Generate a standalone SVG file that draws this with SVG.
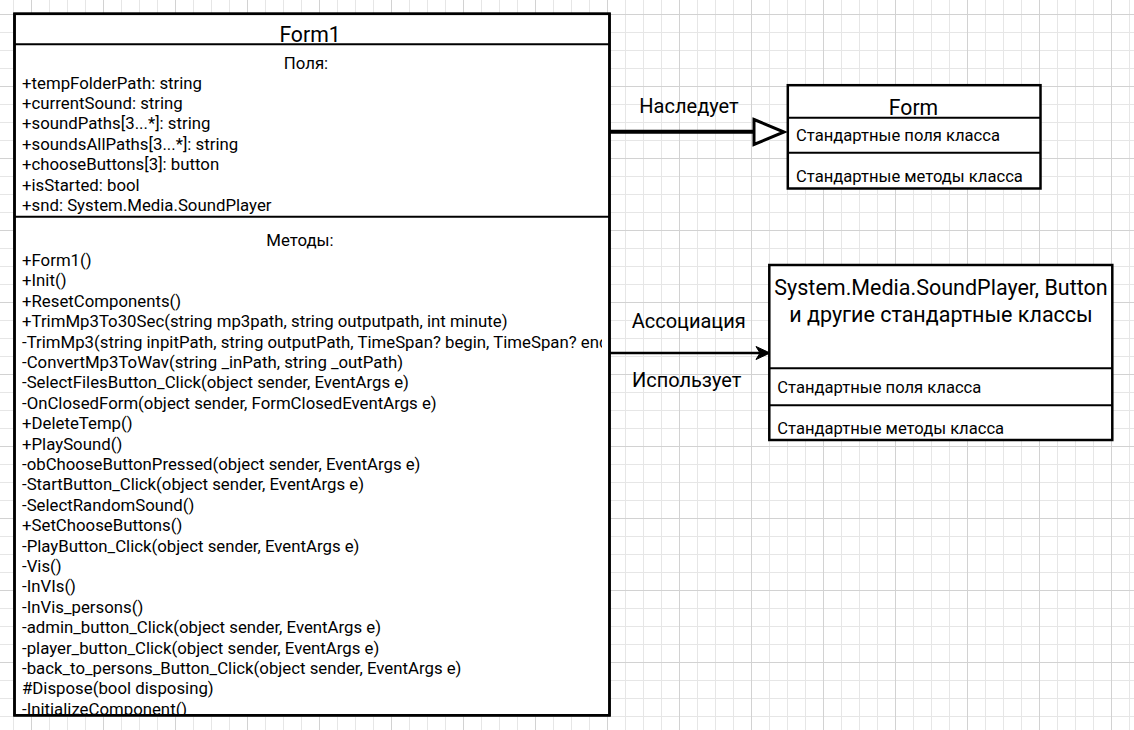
<svg xmlns="http://www.w3.org/2000/svg" width="1134" height="730" viewBox="0 0 1134 730">
<defs>
<pattern id="grid" width="72" height="72" patternUnits="userSpaceOnUse" x="13" y="14">
<path d="M0.5 0V72M36.5 0V72M54.5 0V72M0 18.5H72M0 36.5H72M0 54.5H72" stroke="#e6e6e6" stroke-width="1" fill="none"/>
<path d="M18.5 0V72M0 0.5H72" stroke="#d2d2d2" stroke-width="1" fill="none"/>
</pattern>
<clipPath id="clipForm1"><rect x="14" y="14" width="588" height="701"/></clipPath>
<style>
text{font-family:Roboto,"Liberation Sans",sans-serif;fill:#000;}
.title{font-size:21.2px;text-anchor:middle;}
.title2{font-size:21.5px;text-anchor:middle;}
.item{font-size:16.8px;}
.head{font-size:16.8px;text-anchor:middle;}
.lbl{font-size:20px;text-anchor:middle;}
.std{font-size:16.6px;}
.box{fill:#fff;stroke:#000;stroke-width:2.5;}
.sep{stroke:#000;stroke-width:2;fill:none;}
</style>
</defs>
<rect x="0" y="0" width="1134" height="730" fill="#fff"/>
<rect x="0" y="0" width="1134" height="730" fill="url(#grid)"/>

<g id="form1">
<rect class="box" x="14.5" y="13.8" width="595" height="701.5"/>
<text class="title" x="310" y="42">Form1</text>
<line class="sep" x1="14.5" y1="44.2" x2="609.5" y2="44.2" stroke-width="2.5"/>
<g clip-path="url(#clipForm1)">
<text class="head" x="306" y="68.5">Поля:</text>
<text class="item" x="22" y="88.5">+tempFolderPath: string</text>
<text class="item" x="22" y="108.9">+currentSound: string</text>
<text class="item" x="22" y="129.3">+soundPaths[3...*]: string</text>
<text class="item" x="22" y="149.7">+soundsAllPaths[3...*]: string</text>
<text class="item" x="22" y="170.1">+chooseButtons[3]: button</text>
<text class="item" x="22" y="190.5">+isStarted: bool</text>
<text class="item" x="22" y="210.9">+snd: System.Media.SoundPlayer</text>
<text class="head" x="300" y="245.5">Методы:</text>
<text class="item" x="22" y="266">+Form1()</text>
<text class="item" x="22" y="286.4">+Init()</text>
<text class="item" x="22" y="306.8">+ResetComponents()</text>
<text class="item" x="22" y="327.2">+TrimMp3To30Sec(string mp3path, string outputpath, int minute)</text>
<text class="item" x="22" y="347.6">-TrimMp3(string inpitPath, string outputPath, TimeSpan? begin, TimeSpan? end)</text>
<text class="item" x="22" y="368">-ConvertMp3ToWav(string _inPath, string _outPath)</text>
<text class="item" x="22" y="388.4">-SelectFilesButton_Click(object sender, EventArgs e)</text>
<text class="item" x="22" y="408.8">-OnClosedForm(object sender, FormClosedEventArgs e)</text>
<text class="item" x="22" y="429.2">+DeleteTemp()</text>
<text class="item" x="22" y="449.6">+PlaySound()</text>
<text class="item" x="22" y="470">-obChooseButtonPressed(object sender, EventArgs e)</text>
<text class="item" x="22" y="490.4">-StartButton_Click(object sender, EventArgs e)</text>
<text class="item" x="22" y="510.8">-SelectRandomSound()</text>
<text class="item" x="22" y="531.2">+SetChooseButtons()</text>
<text class="item" x="22" y="551.6">-PlayButton_Click(object sender, EventArgs e)</text>
<text class="item" x="22" y="572">-Vis()</text>
<text class="item" x="22" y="592.4">-InVIs()</text>
<text class="item" x="22" y="612.8">-InVis_persons()</text>
<text class="item" x="22" y="633.2">-admin_button_Click(object sender, EventArgs e)</text>
<text class="item" x="22" y="653.6">-player_button_Click(object sender, EventArgs e)</text>
<text class="item" x="22" y="674">-back_to_persons_Button_Click(object sender, EventArgs e)</text>
<text class="item" x="22" y="694.4">#Dispose(bool disposing)</text>
<text class="item" x="22" y="714.8">-InitializeComponent()</text>
</g>
<line class="sep" x1="14.5" y1="216.8" x2="609.5" y2="216.8"/>
<rect x="14.5" y="13.8" width="595" height="701.5" fill="none" stroke="#000" stroke-width="2.5"/>
</g>

<g id="form">
<rect class="box" x="787.8" y="85.2" width="252.7" height="103.3" stroke-width="2.3"/>
<text class="title" x="913.5" y="114.5">Form</text>
<line class="sep" x1="787.8" y1="117.7" x2="1040.5" y2="117.7"/>
<line class="sep" x1="787.8" y1="152.7" x2="1040.5" y2="152.7"/>
<text class="std" x="796" y="141">Стандартные поля класса</text>
<text class="std" x="796" y="181.5">Стандартные методы класса</text>
</g>

<g id="stdclasses">
<rect class="box" x="769.3" y="265" width="343" height="175" stroke-width="2.3"/>
<text class="title2" x="941" y="295">System.Media.SoundPlayer, Button</text>
<text class="title2" x="941" y="321.7">и другие стандартные классы</text>
<line class="sep" x1="769.3" y1="368.3" x2="1112.3" y2="368.3"/>
<line class="sep" x1="769.3" y1="405.3" x2="1112.3" y2="405.3"/>
<text class="std" x="777.3" y="392.7">Стандартные поля класса</text>
<text class="std" x="777.3" y="434">Стандартные методы класса</text>
</g>

<g id="connectors">
<line x1="609.5" y1="131.8" x2="754" y2="131.8" stroke="#000" stroke-width="4"/>
<polygon points="754,119.5 784,132 754,144.5" fill="#fff" stroke="#000" stroke-width="3"/>
<text class="lbl" x="689" y="112.7">Наследует</text>
<line x1="609.5" y1="353" x2="761" y2="353" stroke="#000" stroke-width="2.5"/>
<polygon points="770,353 756,346.5 760,353 756,359.5" fill="#000" stroke="#000" stroke-width="1"/>
<text class="lbl" x="688.7" y="328.3">Ассоциация</text>
<text class="lbl" x="686.7" y="387.3">Использует</text>
</g>
</svg>
